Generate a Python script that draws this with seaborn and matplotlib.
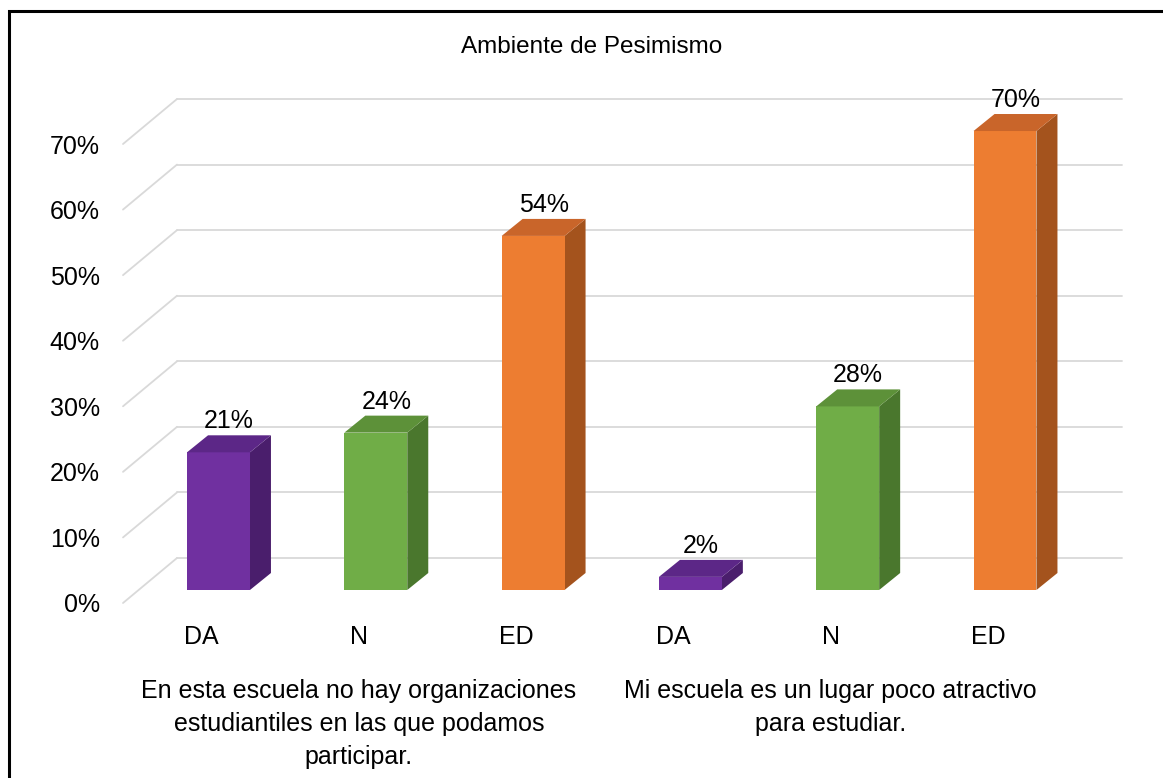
import pandas as pd
import matplotlib.pyplot as plt
import matplotlib.transforms as mtransforms
from matplotlib.colors import to_hex
from matplotlib.patches import Polygon, Rectangle
import seaborn as sns

# datos
categorias = ['DA', 'N', 'ED', 'DA', 'N', 'ED']
grupos = [
    'En esta escuela no hay organizaciones\nestudiantiles en las que podamos\nparticipar.',
    'Mi escuela es un lugar poco atractivo\npara estudiar.',
]
grupo_idx = [0, 0, 0, 1, 1, 1]
valores = [21, 24, 54, 2, 28, 70]
ticks_y = [0, 10, 20, 30, 40, 50, 60, 70]

colores_frente = {'DA': '#7030A0', 'N': '#70AD47', 'ED': '#ED7D31'}
colores_arriba = {'DA': '#5C2787', 'N': '#5D9139', 'ED': '#C9652A'}
colores_lado = {'DA': '#4A1E6C', 'N': '#4A772D', 'ED': '#A4531D'}

sns.set_theme(style='white')
plt.rcParams['font.family'] = ['Liberation Sans Narrow', 'Liberation Sans', 'DejaVu Sans']

W, H = 1163, 778
fig = plt.figure(figsize=(W / 100, H / 100), dpi=100)
ax = fig.add_axes([110 / W, 1 - 600 / H, (1140 - 110) / W, (600 - 80) / H])

df = pd.DataFrame({
    'slot': [f'{c}-{g}' for c, g in zip(categorias, grupo_idx)],
    'resp': categorias,
    'valor': valores,
})

sns.barplot(data=df, x='slot', y='valor', hue='resp', palette=colores_frente,
            dodge=False, width=0.4, saturation=1, legend=False, linewidth=0,
            ax=ax, zorder=3)

# escala: 157.3 px por categoria, 6.557 px por punto porcentual
px_x, px_y = 157.3, 6.557
ax.set_xlim((110 - 218.5) / px_x, (1140 - 218.5) / px_x)
ax.set_ylim(-(600 - 590) / px_y, (590 - 80) / px_y)

# profundidad 3D
dxd, dyd = 21 / px_x, 17 / px_y
fondo = 32 / px_y
frente = -13 / px_y
x_pared_frente = (123 - 218.5) / px_x
x_fondo0 = (177 - 218.5) / px_x
x_fondo1 = (1122 - 218.5) / px_x

# rejilla de fondo y pared izquierda
for v in ticks_y:
    ax.plot([x_fondo0, x_fondo1], [v + fondo, v + fondo], color='#D9D9D9',
            lw=1.3, zorder=0, clip_on=False)
    ax.plot([x_pared_frente, x_fondo0], [v + frente, v + fondo], color='#D9D9D9',
            lw=1.3, zorder=0, clip_on=False)

fs = 18

hex_a_resp = {to_hex(c): k for k, c in colores_frente.items()}
for p in ax.patches:
    resp = hex_a_resp.get(to_hex(p.get_facecolor()))
    if resp is None:
        continue
    x0, w, h = p.get_x(), p.get_width(), p.get_height()
    lado = Polygon([(x0 + w, 0), (x0 + w + dxd, dyd), (x0 + w + dxd, h + dyd), (x0 + w, h)],
                   closed=True, facecolor=colores_lado[resp], edgecolor='none', zorder=2)
    arriba = Polygon([(x0, h), (x0 + w, h), (x0 + w + dxd, h + dyd), (x0 + dxd, h + dyd)],
                     closed=True, facecolor=colores_arriba[resp], edgecolor='none', zorder=3)
    ax.add_patch(lado)
    ax.add_patch(arriba)
    ax.text(x0 + w / 2 + dxd / 2, h + dyd + 7 / px_y, f'{h:.0f}%', ha='center',
            va='baseline', fontsize=fs, color='black', zorder=5)

# ejes
for s in ax.spines.values():
    s.set_visible(False)
ax.set_xlabel('')
ax.set_ylabel('')
ax.set_yticks(ticks_y)
ax.set_yticklabels([f'{v}%' for v in ticks_y])
ax.set_xticks(range(len(categorias)))
ax.set_xticklabels(categorias)
ax.tick_params(axis='y', length=0, pad=7.2, labelsize=fs, labelcolor='black')
ax.tick_params(axis='x', length=0, pad=18, labelsize=fs, labelcolor='black')

for lbl in ax.get_yticklabels():
    lbl.set_transform(lbl.get_transform() + mtransforms.ScaledTranslation(0, -13 / 100, fig.dpi_scale_trans))
for lbl in ax.get_xticklabels():
    lbl.set_transform(lbl.get_transform() + mtransforms.ScaledTranslation(-17 / 100, 0, fig.dpi_scale_trans))

# etiquetas de grupo
for g, texto in enumerate(grupos):
    pos = [i for i, gi in enumerate(grupo_idx) if gi == g]
    xc = sum(pos) / len(pos)
    ax.annotate(texto, xy=(xc, 0), xycoords=('data', 'axes fraction'),
                xytext=(-17 * 0.72, -57), textcoords='offset points',
                ha='center', va='top', fontsize=fs, color='black', linespacing=1.47,
                multialignment='center', annotation_clip=False)

fig.suptitle('Ambiente de Pesimismo', x=592 / W, y=1 - 47 / H, va='center',
             fontsize=17.5, color='black', family=['Liberation Sans', 'DejaVu Sans'])

# marco
fig.add_artist(Rectangle((9 / W, -0.1), 1.2, 1.1 - 11 / H, transform=fig.transFigure,
                         fill=False, edgecolor='black', lw=2.2, clip_on=False))

fig.savefig('out.png', dpi=100, facecolor='white')
